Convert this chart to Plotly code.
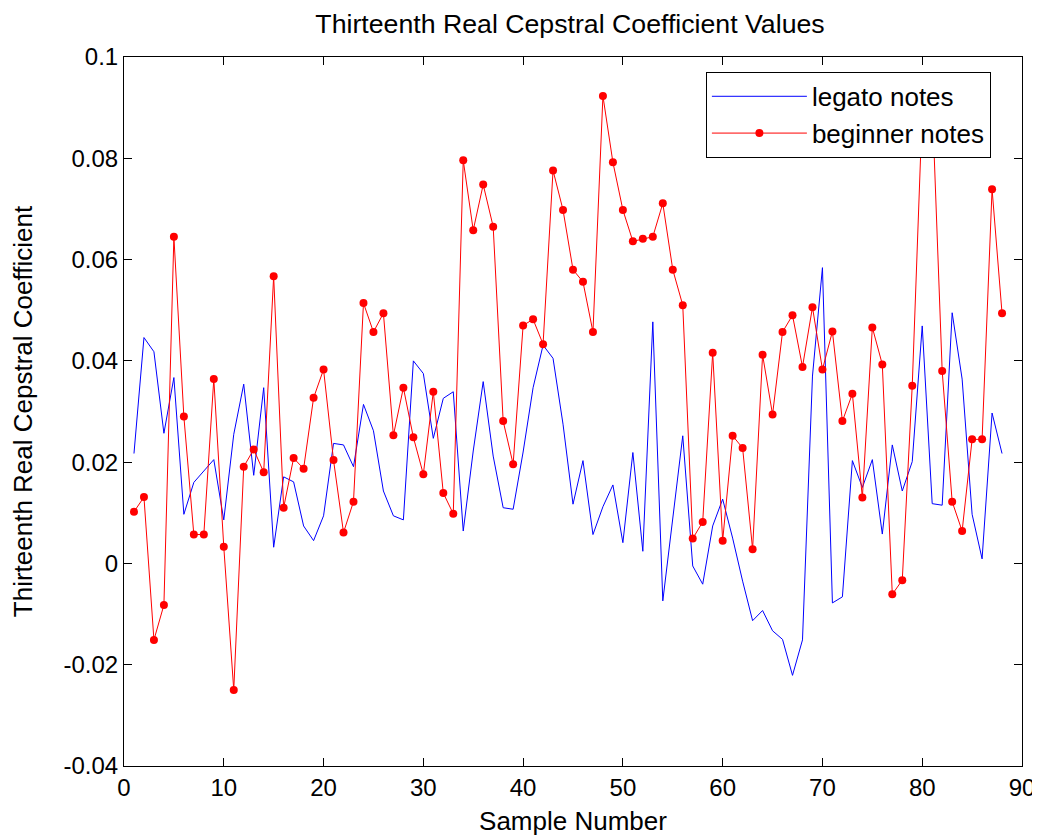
import plotly.graph_objects as go

sample = list(range(1, 89))

legato = [
    0.0217, 0.0446, 0.0418, 0.0257, 0.0367, 0.0097, 0.0160, 0.0183, 0.0205, 0.0086,
    0.0255, 0.0354, 0.0174, 0.0347, 0.0032, 0.0171, 0.0161, 0.0074, 0.0045, 0.0094,
    0.0237, 0.0234, 0.0191, 0.0314, 0.0262, 0.0143, 0.0094, 0.0086, 0.0400, 0.0375,
    0.0247, 0.0326, 0.0339, 0.0064, 0.0222, 0.0359, 0.0212, 0.0110, 0.0107, 0.0220,
    0.0347, 0.0431, 0.0405, 0.0275, 0.0117, 0.0203, 0.0057, 0.0112, 0.0155, 0.0041,
    0.0219, 0.0024, 0.0477, -0.0074, 0.0085, 0.0252, -0.0005, -0.0041, 0.0074, 0.0127,
    0.0050, -0.0035, -0.0113, -0.0093, -0.0133, -0.0150, -0.0221, -0.0151, 0.0370, 0.0584,
    -0.0078, -0.0066, 0.0203, 0.0150, 0.0205, 0.0058, 0.0234, 0.0143, 0.0201, 0.0469,
    0.0118, 0.0115, 0.0495, 0.0364, 0.0097, 0.0009, 0.0297, 0.0217,
]

beginner = [
    0.0102, 0.0131, -0.0151, -0.0082, 0.0645, 0.0290, 0.0057, 0.0057, 0.0364, 0.0033,
    -0.0250, 0.0191, 0.0225, 0.0180, 0.0567, 0.0110, 0.0208, 0.0187, 0.0327, 0.0383,
    0.0204, 0.0061, 0.0122, 0.0514, 0.0457, 0.0494, 0.0253, 0.0347, 0.0249, 0.0176,
    0.0339, 0.0139, 0.0098, 0.0796, 0.0658, 0.0748, 0.0665, 0.0281, 0.0196, 0.0470,
    0.0482, 0.0433, 0.0776, 0.0698, 0.0580, 0.0556, 0.0457, 0.0923, 0.0792, 0.0698,
    0.0636, 0.0641, 0.0645, 0.0711, 0.0580, 0.0510, 0.0049, 0.0082, 0.0416, 0.0045,
    0.0252, 0.0228, 0.0028, 0.0412, 0.0294, 0.0457, 0.0490, 0.0388, 0.0506, 0.0383,
    0.0458, 0.0281, 0.0335, 0.0130, 0.0466, 0.0393, -0.0061, -0.0033, 0.0351, 0.0893,
    0.0913, 0.0380, 0.0122, 0.0064, 0.0245, 0.0245, 0.0739, 0.0494,
]

x_ticks = [0, 10, 20, 30, 40, 50, 60, 70, 80, 90]
y_ticks = [-0.04, -0.02, 0, 0.02, 0.04, 0.06, 0.08, 0.1]
y_tick_labels = ["-0.04", "-0.02", "0", "0.02", "0.04", "0.06", "0.08", "0.1"]

FONT = "Liberation Sans, Arial, sans-serif"

fig = go.Figure()
fig.add_trace(go.Scatter(
    x=sample, y=legato, mode="lines", name="legato notes",
    line=dict(color="#0000FF", width=1),
))
fig.add_trace(go.Scatter(
    x=sample, y=beginner, mode="lines+markers", name="beginner notes",
    line=dict(color="#FF0000", width=1),
    marker=dict(color="#FF0000", size=8),
))

axis_common = dict(
    showgrid=False, zeroline=False, showline=True, linecolor="black", linewidth=1,
    mirror="ticks", ticks="inside", ticklen=8, tickcolor="black", tickwidth=1,
    tickfont=dict(family=FONT, size=24, color="black"),
    automargin=False,
)

# page has an 8px body margin, so the figure is sized/offset to compensate
fig.update_layout(
    width=1032, height=828,
    paper_bgcolor="white", plot_bgcolor="white",
    margin=dict(l=116, r=18, t=49, b=70, autoexpand=False),
    title=dict(text="Thirteenth Real Cepstral Coefficient Values", x=0.5446, xanchor="center",
               y=0.9807, yanchor="middle",
               font=dict(family=FONT, size=26.7, color="black")),
    xaxis=dict(range=[0, 90], tickvals=x_ticks,
               title=dict(text="Sample Number", font=dict(family=FONT, size=26, color="black"), standoff=22),
               **axis_common),
    yaxis=dict(range=[-0.04, 0.1], tickvals=y_ticks, ticktext=y_tick_labels,
               title=dict(text="Thirteenth Real Cepstral Coefficient", font=dict(family=FONT, size=26, color="black"), standoff=25),
               **axis_common),
    legend=dict(x=0.648, y=0.979, xanchor="left", yanchor="top",
                bgcolor="white", bordercolor="black", borderwidth=1,
                font=dict(family=FONT, size=26, color="black"),
                itemwidth=95, tracegroupgap=0),
    showlegend=True,
)

fig.write_html("out.html")
